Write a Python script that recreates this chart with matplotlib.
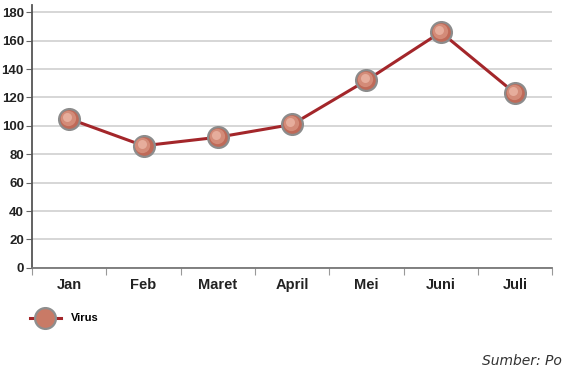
import matplotlib.pyplot as plt
from matplotlib.lines import Line2D

months = ["Jan", "Feb", "Maret", "April", "Mei", "Juni", "Juli"]
virus = [105, 86, 92, 101, 132, 166, 123]
y_ticks = [0, 20, 40, 60, 80, 100, 120, 140, 160, 180]

plt.rcParams['font.family'] = ['Liberation Sans', 'DejaVu Sans']

fig = plt.figure(figsize=(5.64, 3.69), dpi=100)
ax = fig.add_axes([0.057, 0.274, 0.922, 0.712])

x = list(range(len(months)))
line_col = "#a3262a"

ax.plot(x, virus, color=line_col, linewidth=2.2, zorder=3)
# sphere-like markers: base + soft highlight layers
ax.plot(x, virus, linestyle="none", marker="o", markersize=15,
        markerfacecolor="#bf6a58", markeredgecolor="#8c8c8c",
        markeredgewidth=1.6, zorder=4)
ax.plot([i - 0.015 for i in x], [v + 0.8 for v in virus], linestyle="none",
        marker="o", markersize=11, markerfacecolor="#d38b78",
        markeredgecolor="none", zorder=5)
ax.plot([i - 0.025 for i in x], [v + 1.5 for v in virus], linestyle="none",
        marker="o", markersize=6.5, markerfacecolor="#e6ad9c",
        markeredgecolor="none", zorder=6)

ax.set_xlim(-0.5, len(months) - 0.5)
ax.set_ylim(0, 185)
ax.set_yticks(y_ticks)
ax.set_yticklabels([str(t) for t in y_ticks], fontsize=9.5, fontweight="bold", color="#222222")
ax.set_xticks([i + 0.5 for i in range(-1, len(months))], minor=False)
ax.set_xticklabels([])
ax.set_xticks(x, minor=True)
ax.set_xticklabels(months, minor=True, fontsize=10.5, fontweight="bold", color="#222222")
ax.tick_params(axis="x", which="major", length=5, color="#999999", direction="out")
ax.tick_params(axis="x", which="minor", length=0, pad=7)
ax.tick_params(axis="y", length=4, color="#666666", pad=2)

ax.grid(axis="y", color="#d0d0d0", linewidth=1.2)
ax.set_axisbelow(True)
for side in ["top", "right"]:
    ax.spines[side].set_visible(False)
ax.spines["left"].set_color("#555555")
ax.spines["left"].set_linewidth(1.3)
ax.spines["bottom"].set_color("#777777")
ax.spines["bottom"].set_linewidth(1.3)

handle = Line2D([0], [0], color=line_col, linewidth=2.2, marker="o", markersize=15,
                markerfacecolor="#c97a66", markeredgecolor="#8e8e8e", markeredgewidth=1.6)
fig.legend([handle], ["Virus"], loc="center left", bbox_to_anchor=(0.035, 0.137),
           frameon=False, handlelength=2.8, handletextpad=0.9,
           prop={"size": 8, "weight": "bold"})

fig.text(0.855, 0.012, "Sumber: Po", fontsize=10, style="italic", color="#333333",
         family="DejaVu Sans")

fig.savefig("out.png", dpi=100)
